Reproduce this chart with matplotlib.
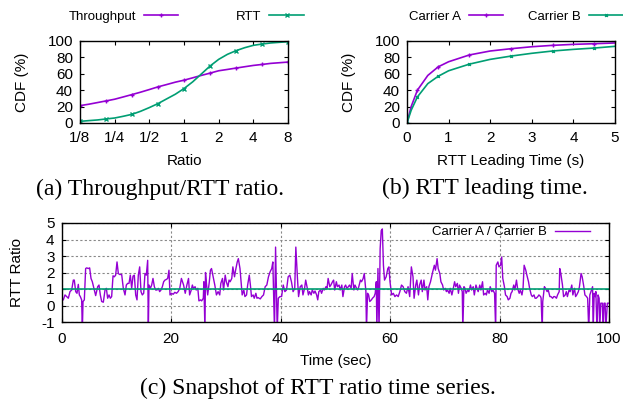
import matplotlib
matplotlib.use("Agg")
import matplotlib.pyplot as plt
import numpy as np

plt.rcParams["font.family"] = ["Liberation Sans", "DejaVu Sans"]
plt.rcParams["axes.unicode_minus"] = False

purple = "#9400D3"
green = "#009E73"

# (a) CDF of throughput / RTT ratio (x on log2 scale)
ratio_x = [1/8, 0.149, 0.177, 0.21, 1/4, 0.297, 0.354, 0.42, 1/2, 0.595, 0.707, 0.841, 1,
           1.19, 1.41, 1.68, 2, 2.38, 2.83, 3.36, 4, 4.76, 5.66, 6.73, 8]
thr_cdf = [21.2, 22.9, 24.9, 26.9, 29.0, 31.8, 34.7, 37.6, 40.8, 44.1, 46.9, 49.8, 52.2,
           55.1, 58.0, 60.8, 63.7, 65.3, 67.0, 68.6, 70.2, 71.4, 72.7, 73.5, 74.3]
rtt_cdf = [2.0, 2.9, 3.7, 4.9, 6.1, 8.2, 10.6, 14.3, 18.8, 23.7, 29.4, 35.1, 42.0,
           50.2, 59.6, 69.4, 77.6, 83.7, 88.2, 91.8, 94.7, 96.3, 97.6, 98.4, 99.2]
ratio_ticks = [1/8, 1/4, 1/2, 1, 2, 4, 8]
ratio_labels = ["1/8", "1/4", "1/2", "1", "2", "4", "8"]

# (b) CDF of RTT leading time
lead_t = [0, 0.1, 0.25, 0.5, 0.75, 1, 1.5, 2, 2.5, 3, 3.5, 4, 4.5, 5]
carrier_a = [0, 20, 40, 58, 68.5, 74.7, 83, 87.8, 90.6, 93, 94.7, 95.9, 96.7, 97.6]
carrier_b = [0, 15.5, 31.8, 48, 57, 63.7, 71.8, 77.6, 81.6, 85, 87.8, 89.8, 91.4, 93.5]

# (c) RTT ratio time series (values below -1 are clipped spikes)
ts_t = [0.0, 0.33, 0.64, 0.94, 1.25, 1.55, 1.86, 2.16, 2.34, 2.59, 2.83, 3.07, 3.26, 3.44, 3.68, 3.81,
        3.93, 4.17, 4.41, 4.6, 4.9, 5.14, 5.39, 5.63, 6.0, 6.24, 6.61, 6.85, 7.09, 7.34, 7.64, 7.95,
        8.19, 8.43, 8.68, 8.92, 9.16, 9.41, 9.65, 9.89, 10.14, 10.38, 10.62, 10.99, 11.29, 11.6,
        11.84, 12.08, 12.33, 12.57, 12.82, 13.06, 13.3, 13.55, 13.79, 14.03, 14.28, 14.52, 14.76,
        15.01, 15.25, 15.49, 15.74, 15.86, 15.98, 16.23, 16.47, 16.71, 16.96, 17.2, 17.44, 17.69,
        17.93, 18.17, 18.42, 18.66, 18.9, 19.15, 19.39, 19.63, 19.82,
        20.1, 20.4, 20.7, 21.0, 21.3, 21.6, 21.9, 22.3, 22.6, 22.9, 23.2, 23.4, 23.7, 23.9, 24.1,
        24.4, 24.6, 24.9, 25.1, 25.4, 25.6, 25.9, 26.0, 26.2, 26.3, 26.5, 26.7, 27.0, 27.2, 27.4,
        27.7, 28.0, 28.3, 28.6, 28.9, 29.1, 29.4, 29.6, 29.9, 30.1, 30.4, 30.6, 30.8, 31.1, 31.3,
        31.6, 31.8, 32.1, 32.3, 32.6, 32.8, 33.0, 33.3, 33.5, 33.8, 34.0, 34.3, 34.5, 34.7, 35.0,
        35.2, 35.5, 35.7, 35.9, 36.3, 36.6, 36.9, 37.2, 37.5, 37.8, 38.1, 38.4, 38.6, 38.9, 39.1,
        39.4, 39.6, 39.9,
        40.2, 40.5, 40.8, 41.1, 41.4, 41.7, 42.0, 42.3, 42.6, 42.8, 43.1, 43.3, 43.6, 43.9, 44.1,
        44.4, 44.6, 44.9, 45.1, 45.3, 45.6, 45.8, 46.1, 46.3, 46.6, 46.8, 47.0, 47.3, 47.5, 47.8,
        48.0, 48.3, 48.5, 48.7, 49.0, 49.2, 49.5, 49.7, 49.9, 50.2, 50.4, 50.7, 50.9, 51.2, 51.4,
        51.7, 51.9, 52.1, 52.4, 52.6, 52.9, 53.1, 53.4, 53.6, 53.9, 54.1, 54.3, 54.6, 54.8, 55.1,
        55.3, 55.6, 55.7, 55.9, 56.1, 56.3, 56.6, 56.8, 57.1, 57.3, 57.5, 57.6, 57.8, 58.0, 58.2,
        58.4, 58.6, 58.8, 59.0, 59.3, 59.6, 59.8,
        60.0, 60.3, 60.6, 60.9, 61.2, 61.5, 61.8, 62.1, 62.4, 62.7, 63.0, 63.3, 63.6, 63.9, 64.2,
        64.4, 64.7, 64.9, 65.2, 65.4, 65.7, 65.9, 66.2, 66.4, 66.7, 66.9, 67.1, 67.4, 67.6, 67.8,
        68.1, 68.3, 68.6, 68.8, 69.1, 69.3, 69.6, 69.8, 70.1, 70.3, 70.5, 70.8, 71.0, 71.3, 71.5,
        71.8, 72.0, 72.3, 72.5, 72.7, 73.0, 73.2, 73.3, 73.5, 73.7, 73.9, 74.2, 74.4, 74.7, 74.9,
        75.2, 75.4, 75.7, 75.9, 76.1, 76.4, 76.6, 76.9, 77.1, 77.4, 77.6, 77.8, 78.1, 78.3, 78.6,
        78.8, 79.1, 79.3, 79.4, 79.7, 79.9,
        80.2, 80.4, 80.6, 80.9, 81.1, 81.4, 81.6, 81.9, 82.1, 82.3, 82.6, 82.8, 83.1, 83.3, 83.6,
        83.8, 84.1, 84.3, 84.5, 84.8, 85.0, 85.3, 85.5, 85.8, 86.0, 86.3, 86.5, 86.7, 87.0, 87.2,
        87.5, 87.6, 87.8, 87.9, 88.2, 88.4, 88.7, 88.9, 89.2, 89.4, 89.7, 89.9, 90.1, 90.4, 90.6,
        90.9, 91.0, 91.2, 91.5, 91.7, 92.0, 92.2, 92.4, 92.7, 92.9, 93.2, 93.4, 93.7, 93.9, 94.1,
        94.4, 94.6, 94.9, 95.1, 95.4, 95.6, 95.9, 96.1, 96.3, 96.5, 96.7, 97.0, 97.1, 97.3, 97.5,
        97.6, 97.8, 98.0, 98.2, 98.3, 98.5, 98.8, 98.9, 99.1, 99.3, 99.4, 99.7, 99.9]
ts_ratio = [0.34, 0.34, 0.64, 0.54, 0.44, 0.84, 0.94, 1.54, 1.54, 0.84, 0.74, 1.28, 0.64, 0.54, 0.34, -1.5,
            0.24, 0.34, 2.24, 2.28, 2.24, 2.28, 1.64, 1.44, 0.94, 0.6, 1.14, 1.24, 0.64, 0.24, 0.2, 0.94,
            1.04, 0.44, 0.64, 0.44, 0.54, 1.8, 1.74, 1.84, 2.64, 1.94, 1.88, 1.88, 1.04, 0.64,
            1.24, 1.34, 1.34, 1.84, 1.04, 1.78, 1.84, 0.64, 0.34, 1.84, 2.34, 0.84, 0.64,
            0.74, 1.94, 1.84, 2.74, -1.5, 1.24, 1.04, 1.24, 1.64, 1.14, 0.94, 0.94, 1.04,
            0.84, 0.94, 1.14, 1.44, 1.54, 1.58, 1.64, 2.14, 0.64,
            0.74, 0.68, 0.8, 0.74, 0.84, 1.04, 1.64, 1.24, 0.74, 1.24, 1.64, 0.64, 0.94, 1.24, 1.04,
            1.14, 0.94, 1.04, 0.28, 0.34, 0.28, 0.44, 1.44, -1.5, 2.0, 1.24, 0.64, 1.44, 2.14, 2.24,
            1.74, 1.24, 0.64, 0.84, 0.64, 1.34, 1.64, 0.94, 1.84, 1.44, 1.14, 1.54, 1.44, 1.64, 2.34,
            1.74, 2.14, 2.64, 2.84, 2.24, 1.44, 0.64, 0.94, 0.54, 0.64, 1.24, 1.84, 1.24, 0.54, 0.64,
            0.44, 0.74, 0.44, 0.48, 0.4, 0.54, 0.64, 1.14, 1.24, 1.74, 2.04, 2.24, 2.64, -1.5, 3.54,
            -1.5, 0.44, 0.54,
            0.54, 1.24, 0.84, 0.94, 1.74, 1.84, 1.44, 0.84, 1.04, 3.54, 1.64, 0.54, 1.14, 1.24, 0.64,
            1.04, 1.54, 1.04, 0.64, 0.84, 0.64, 0.94, 0.74, 0.88, 0.64, 0.34, 0.84, 0.94, 0.74, 1.04,
            0.94, 1.14, 1.04, 1.64, 1.14, 1.24, 1.44, 1.54, 0.94, 1.44, 1.14, 1.24, 0.94, 1.24, 0.54,
            1.14, 1.24, 1.04, 1.14, 1.24, 1.04, 1.94, 0.94, 1.24, 1.04, 0.94, 1.14, 1.54, 1.44, 1.64,
            1.94, 0.84, -1.5, 0.74, 0.64, 0.24, 0.34, 0.44, 0.54, 0.74, 1.44, -1.5, 2.24, -1.5, 3.44,
            4.54, 4.64, 2.44, 1.54, 1.74, 2.24, 2.34,
            1.44, 0.64, 0.74, 0.54, 0.64, 0.54, 0.84, 1.24, 1.14, 0.84, 0.74, 1.14, 0.54, 2.34, 1.74,
            0.44, 1.24, 1.54, 0.64, 1.24, 1.54, 0.84, 1.54, 0.94, 1.14, 0.34, 1.14, 1.44, 1.74, 2.04,
            2.44, 2.14, 2.84, 2.24, 1.94, 1.44, 1.24, 0.94, 1.04, 0.84, 0.94, 0.74, 1.04, 0.64, 0.94,
            1.44, 1.14, 1.34, 0.74, 1.24, 1.04, 0.84, -1.5, 1.14, 1.04, 0.74, 0.94, 0.84, 1.24, 0.94,
            1.14, 0.64, 1.24, 1.04, 0.84, 1.24, 0.94, 1.44, 0.64, 0.74, 0.64, 0.94, 0.74, 1.14, 0.84,
            0.94, 0.74, -1.5, 2.44, 2.64, 2.34,
            2.44, 2.94, 1.64, 1.14, 0.64, 0.54, 0.34, 0.44, 0.74, 0.84, 1.24, 0.94, 1.54, 1.04, 0.74,
            0.94, 0.64, 1.04, 2.44, 2.14, 1.84, 1.44, 1.04, 0.64, 0.54, 0.64, 0.44, 0.44, 0.54, 0.64,
            0.54, 0.44, -1.5, 0.24, 1.14, 1.04, 0.84, 0.94, 0.54, 0.54, 0.44, 0.54, 0.54, 0.44, 0.64,
            0.84, 2.24, 1.94, 1.24, 0.54, 0.64, 0.84, 0.54, 0.94, 0.84, 1.24, 0.64, 1.04, 0.54, 0.64,
            0.84, 1.14, 1.94, 1.74, 1.14, 0.64, 0.54, 0.44, -1.5, 0.64, 0.84, 1.14, -1.5, 0.74, 0.54,
            0.84, -1.5, 0.64, 0.44, -1.5, 0.14, 0.14, -1.5, 0.14, 0.14, -1.5, 0.14, 0.14]
ref_level = 1

W, H = 623, 401
fig = plt.figure(figsize=(W / 100, H / 100), dpi=100)

FS = 11
LEG_FS = 9.5
CAP_FS = 17


def px_axes(l, t, r, b):
    return fig.add_axes([l / W, 1 - b / H, (r - l) / W, (b - t) / H])


def style(ax):
    ax.tick_params(direction="in", top=True, right=True, labelsize=FS, length=3, pad=5)
    ax.tick_params(axis="x", pad=6)
    for s in ax.spines.values():
        s.set_linewidth(1.0)


# ---- (a)
ax1 = px_axes(80, 41, 288, 123)
ax1.plot(ratio_x, thr_cdf, color=purple, lw=1.2, marker="+", ms=3, markevery=3, label="Throughput")
ax1.plot(ratio_x, rtt_cdf, color=green, lw=1.2, marker="x", ms=2.5, markevery=3, label="RTT")
ax1.set_xscale("log", base=2)
ax1.set_xlim(1/8, 8)
ax1.set_ylim(0, 100)
ax1.set_xticks(ratio_ticks)
ax1.set_xticklabels(ratio_labels)
ax1.minorticks_off()
ax1.set_yticks(range(0, 101, 20))
style(ax1)
ax1.set_xlabel("Ratio", fontsize=FS, labelpad=6)
ax1.set_ylabel("CDF (%)", fontsize=FS, labelpad=13)
ax1.legend(ncol=2, markerfirst=False, frameon=False, fontsize=LEG_FS, handlelength=2.6,
           handletextpad=0.6, columnspacing=4.4, borderpad=0, loc="center",
           bbox_to_anchor=(186 / W, 1 - 17 / H), bbox_transform=fig.transFigure)
fig.text(160 / W, 1 - 189 / H, "(a) Throughput/RTT ratio.", ha="center", va="center",
         fontsize=CAP_FS, family="Liberation Serif")

# ---- (b)
ax2 = px_axes(407, 41, 615, 123)
ax2.plot(lead_t, carrier_a, color=purple, lw=1.2, marker="+", ms=2.5, markevery=2, label="Carrier A")
ax2.plot(lead_t, carrier_b, color=green, lw=1.2, marker="x", ms=2, markevery=2, label="Carrier B")
ax2.set_xlim(0, 5)
ax2.set_ylim(0, 100)
ax2.set_xticks(range(0, 6))
ax2.set_yticks(range(0, 101, 20))
style(ax2)
ax2.set_xlabel("RTT Leading Time (s)", fontsize=FS, labelpad=6)
ax2.set_ylabel("CDF (%)", fontsize=FS, labelpad=13)
ax2.legend(ncol=2, markerfirst=False, frameon=False, fontsize=LEG_FS, handlelength=2.6,
           handletextpad=0.6, columnspacing=1.9, borderpad=0, loc="center",
           bbox_to_anchor=(516 / W, 1 - 17 / H), bbox_transform=fig.transFigure)
fig.text(485 / W, 1 - 188 / H, "(b) RTT leading time.", ha="center", va="center",
         fontsize=CAP_FS, family="Liberation Serif")

# ---- (c)
ax3 = px_axes(61.5, 223, 609, 322)
ax3.grid(True, color="#888888", linestyle=(0, (2, 2)), lw=0.8)
ax3.set_axisbelow(True)
ax3.plot(ts_t, ts_ratio, color=purple, lw=1.0, label="Carrier A / Carrier B")
ax3.axhline(ref_level, color=green, lw=1.2)
ax3.set_xlim(0, 100)
ax3.set_ylim(-1, 5)
ax3.set_xticks(range(0, 101, 20))
ax3.set_yticks(range(-1, 6))
style(ax3)
ax3.tick_params(axis="x", pad=7)
ax3.set_xlabel("Time (sec)", fontsize=FS, labelpad=6)
ax3.set_ylabel("RTT Ratio", fontsize=FS, labelpad=12)
ax3.legend(frameon=False, markerfirst=False, fontsize=LEG_FS, handlelength=2.6,
           handletextpad=0.6, borderpad=0, loc="center",
           bbox_to_anchor=(511 / W, 1 - 232 / H), bbox_transform=fig.transFigure)
fig.text(318 / W, 1 - 388 / H, "(c) Snapshot of RTT ratio time series.", ha="center", va="center",
         fontsize=CAP_FS, family="Liberation Serif")

fig.savefig("out.png", dpi=100)
